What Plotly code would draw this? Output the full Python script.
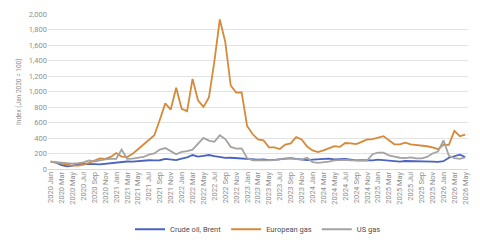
import plotly.graph_objects as go

months = ["Jan", "Feb", "Mar", "Apr", "May", "Jun", "Jul", "Aug", "Sep", "Oct", "Nov", "Dec"]
categories = [f"{y} {m}" for y in range(2020, 2027) for m in months][:77]

brent = [100, 88, 55, 38, 50, 65, 70, 72, 68, 65, 72, 80,
         88, 98, 102, 100, 108, 115, 118, 115, 118, 135, 130, 120,
         140, 155, 185, 165, 175, 185, 170, 160, 148, 150, 145, 135,
         130, 130, 125, 130, 120, 122, 130, 140, 145, 135, 128, 120,
         125, 130, 135, 140, 130, 130, 135, 125, 115, 118, 115, 115,
         125, 118, 112, 105, 100, 108, 108, 105, 105, 100, 100, 98,
         105, 150, 175, 190, 160]

eu_gas = [100, 85, 70, 55, 48, 50, 60, 85, 115, 140, 135, 160,
          210, 165, 160, 200, 260, 320, 380, 440, 640, 850, 770, 1050,
          780, 750, 1165, 890, 805, 925, 1390, 1930, 1640, 1080, 990, 990,
          560, 455, 385, 375, 285, 283, 262, 320, 335, 415, 385, 295,
          245, 222, 245, 270, 300, 290, 340, 335, 325, 355, 385, 390,
          410, 428, 375, 323, 323, 343, 323, 315, 311, 298, 283, 260,
          318, 315, 495, 427, 447]

us_gas = [100, 95, 90, 78, 75, 80, 90, 115, 100, 115, 130, 135,
          135, 255, 135, 138, 145, 160, 190, 205, 255, 275, 235, 195,
          225, 235, 255, 335, 405, 370, 355, 440, 390, 290, 268, 270,
          145, 118, 115, 115, 115, 120, 135, 143, 140, 135, 125, 150,
          95, 85, 88, 100, 115, 120, 123, 118, 115, 115, 115, 195,
          215, 215, 180, 165, 150, 145, 155, 143, 143, 160, 205, 230,
          375, 175, 145, 135, 155]

y_ticks = list(range(0, 2001, 200))
y_tick_text = [f"{v:,}" for v in y_ticks]
x_ticks = categories[::2]

fig = go.Figure()
series = [("Crude oil, Brent", brent, "#4a62c2"),
          ("European gas", eu_gas, "#d7893a"),
          ("US gas", us_gas, "#a3a3a3")]
for name, vals, col in series:
    fig.add_trace(go.Scatter(x=categories, y=vals, mode="lines", name=name,
                             line=dict(color=col, width=1.8)))

font_fam = "Roboto, Open Sans, sans-serif"
fig.update_layout(
    width=480, height=250,
    margin=dict(l=48, r=10, t=14, b=69),
    paper_bgcolor="white", plot_bgcolor="white",
    font=dict(family=font_fam, size=7, color="#8a8a8a"),
    showlegend=True,
    legend=dict(orientation="h", x=0.5, xanchor="center", y=0.025, yref="container",
                yanchor="bottom", font=dict(size=7.5, color="#4d4d4d", family=font_fam),
                itemwidth=30, tracegroupgap=0),
    xaxis=dict(type="category", categoryorder="array", categoryarray=categories,
               range=[-0.5, 76.5], tickmode="array", tickvals=x_ticks, ticktext=x_ticks,
               tickangle=-90, showgrid=False, showline=False, ticks="",
               tickfont=dict(size=7.5, color="#8f8f8f"), zeroline=False),
    yaxis=dict(range=[0, 2000], tickmode="array", tickvals=y_ticks, ticktext=y_tick_text,
               showgrid=True, gridcolor="#e3e3e3", gridwidth=1, zeroline=True,
               zerolinecolor="#d9d9d9", zerolinewidth=1, ticks="",
               tickfont=dict(size=7.5, color="#8f8f8f"),
               title=dict(text="Index (Jan 2020 = 100)", font=dict(size=6.5, color="#8f8f8f"),
                          standoff=6)),
)

fig.write_html("out.html")
